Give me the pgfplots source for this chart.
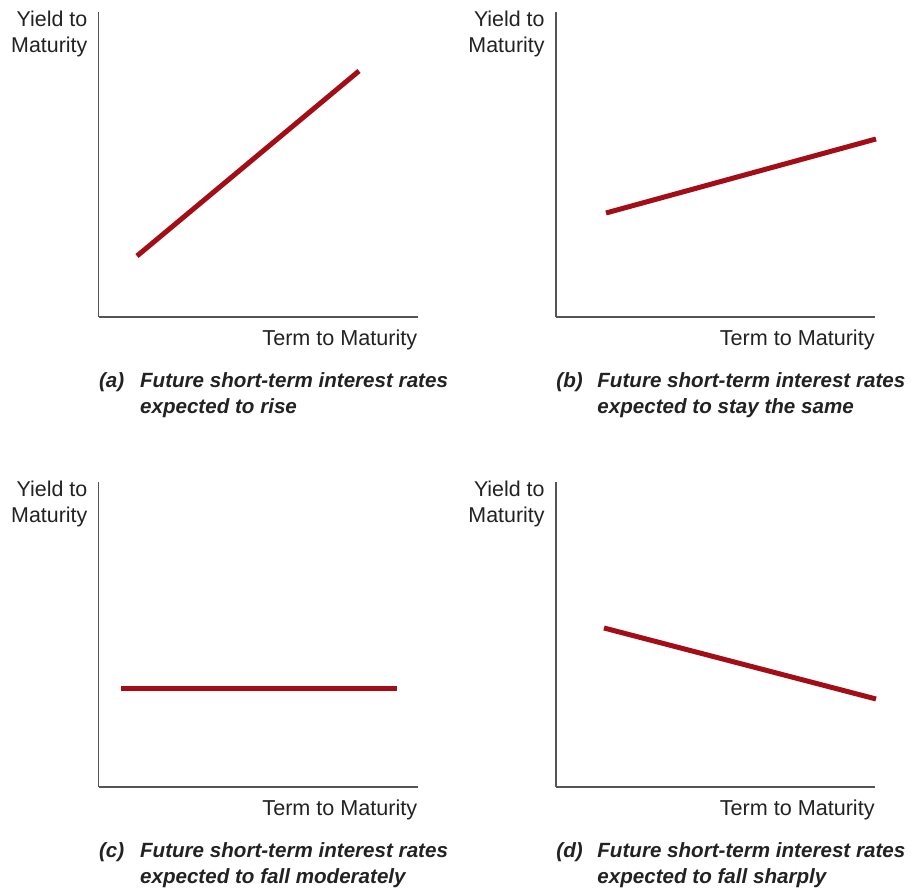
\documentclass[border=0pt]{standalone}
\usepackage{fontspec}
\setmainfont{Liberation Sans}
\usepackage{pgfplots}
\pgfplotsset{compat=1.18}
\definecolor{curve}{HTML}{A30D15}
\definecolor{axisgray}{HTML}{555555}
\definecolor{txt}{HTML}{222222}

\pgfplotsset{
  yieldpanel/.style={
    scale only axis, width=159.5pt, height=152.5pt,
    anchor=south west,
    xmin=0, xmax=319, ymin=0, ymax=305,
    axis lines*=left,
    axis line style={axisgray, line width=0.8pt, -},
    xtick=\empty, ytick=\empty,
    clip=false,
  },
  yc/.style={curve, line width=2.5pt, line cap=butt, no marks},
}
\newcommand{\panellabels}[3]{%
  \node[anchor=north east, align=right, inner sep=0pt, text=txt,
        font=\fontsize{10.7pt}{13pt}\selectfont]
    at (rel axis cs:0,1) [xshift=-5.5pt, yshift=0.5pt] {Yield to\\Maturity};
  \node[anchor=north east, inner sep=0pt, text=txt, font=\fontsize{10.8pt}{13pt}\selectfont]
    at (rel axis cs:1,0) [yshift=-6pt] {Term to Maturity};
  \node[anchor=north west, align=left, inner sep=0pt, text=txt,
        font=\fontsize{10.3pt}{13pt}\selectfont\bfseries\itshape]
    at (rel axis cs:0,0) [yshift=-27.5pt]
    {\makebox[20.5pt][l]{#1}#2\\\hspace*{20.5pt}#3};
}

\begin{document}
\begin{tikzpicture}
\useasboundingbox (0,0) rectangle (459pt,444.5pt);

% (a)
\begin{axis}[yieldpanel, at={(49.35pt,286pt)}]
\addplot[yc] coordinates {(38.3,61) (260.3,246)};
\panellabels{(a)}{Future short-term interest rates}{expected to rise}
\end{axis}

% (b)
\begin{axis}[yieldpanel, at={(278pt,286pt)}]
\addplot[yc] coordinates {(50,104) (320,178)};
\panellabels{(b)}{Future short-term interest rates}{expected to stay the same}
\end{axis}

% (c)
\begin{axis}[yieldpanel, at={(49.35pt,51pt)}]
\addplot[yc] coordinates {(22.3,98) (298.3,98)};
\panellabels{(c)}{Future short-term interest rates}{expected to fall moderately}
\end{axis}

% (d)
\begin{axis}[yieldpanel, at={(278pt,51pt)}]
\addplot[yc] coordinates {(48,159) (320,88)};
\panellabels{(d)}{Future short-term interest rates}{expected to fall sharply}
\end{axis}
\end{tikzpicture}
\end{document}
